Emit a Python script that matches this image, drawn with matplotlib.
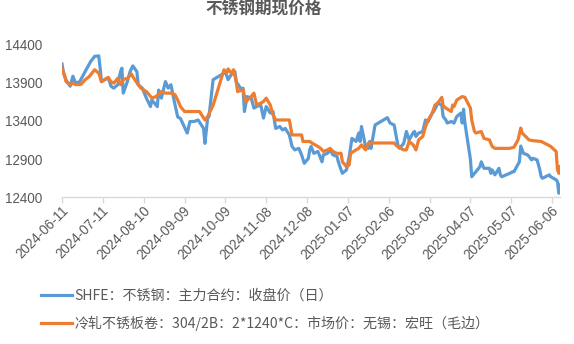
import pandas as pd
import matplotlib
matplotlib.use("Agg")
import matplotlib.pyplot as plt
import matplotlib.dates as mdates
import matplotlib.transforms as mtransforms

plt.rcParams["font.family"] = ["Liberation Sans", "Noto Sans CJK SC", "DejaVu Sans"]

title = "不锈钢期现价格"
shfe_label = "SHFE：不锈钢：主力合约：收盘价（日）"
spot_label = "冷轧不锈板卷：304/2B：2*1240*C：市场价：无锡：宏旺（毛边）"

# SHFE main contract close
shfe_dates = [
    "2024-06-11", "2024-06-12", "2024-06-14", "2024-06-17", "2024-06-19", "2024-06-21",
    "2024-06-24", "2024-06-28", "2024-07-02", "2024-07-05", "2024-07-08", "2024-07-09",
    "2024-07-10", "2024-07-12", "2024-07-15", "2024-07-17", "2024-07-19", "2024-07-22",
    "2024-07-24", "2024-07-25", "2024-07-26", "2024-07-29", "2024-07-31", "2024-08-02",
    "2024-08-05", "2024-08-06", "2024-08-09", "2024-08-12", "2024-08-15", "2024-08-16",
    "2024-08-20", "2024-08-21", "2024-08-23", "2024-08-26", "2024-08-28", "2024-08-30",
    "2024-09-02", "2024-09-04", "2024-09-06", "2024-09-11", "2024-09-13", "2024-09-16",
    "2024-09-19", "2024-09-23", "2024-09-24", "2024-09-26", "2024-09-27", "2024-09-30",
    "2024-10-08", "2024-10-09", "2024-10-11", "2024-10-14", "2024-10-16", "2024-10-17",
    "2024-10-21", "2024-10-22", "2024-10-23", "2024-10-25", "2024-10-28", "2024-10-30",
    "2024-11-01", "2024-11-04", "2024-11-06", "2024-11-08", "2024-11-11", "2024-11-13",
    "2024-11-15", "2024-11-18", "2024-11-20", "2024-11-22", "2024-11-25", "2024-11-27",
    "2024-11-29", "2024-12-02", "2024-12-04", "2024-12-06", "2024-12-09", "2024-12-10",
    "2024-12-11", "2024-12-13", "2024-12-16", "2024-12-19", "2024-12-20", "2024-12-23",
    "2024-12-25", "2024-12-27", "2024-12-30", "2024-12-31", "2025-01-02", "2025-01-03",
    "2025-01-06", "2025-01-08", "2025-01-10", "2025-01-13", "2025-01-15", "2025-01-16",
    "2025-01-17", "2025-01-20", "2025-01-22", "2025-01-23", "2025-01-24", "2025-01-27",
    "2025-02-05", "2025-02-07", "2025-02-10", "2025-02-12", "2025-02-13", "2025-02-14",
    "2025-02-17", "2025-02-19", "2025-02-21", "2025-02-24", "2025-02-25", "2025-02-26",
    "2025-02-28", "2025-03-03", "2025-03-05", "2025-03-07", "2025-03-10", "2025-03-11",
    "2025-03-13", "2025-03-14", "2025-03-17", "2025-03-18", "2025-03-20", "2025-03-21",
    "2025-03-24", "2025-03-26", "2025-03-28", "2025-03-31", "2025-04-01", "2025-04-02",
    "2025-04-03", "2025-04-07", "2025-04-08", "2025-04-11", "2025-04-14", "2025-04-15",
    "2025-04-17", "2025-04-21", "2025-04-22", "2025-04-23", "2025-04-25", "2025-04-28",
    "2025-04-29", "2025-04-30", "2025-05-06", "2025-05-08", "2025-05-09", "2025-05-13",
    "2025-05-14", "2025-05-16", "2025-05-19", "2025-05-20", "2025-05-22", "2025-05-23",
    "2025-05-26", "2025-05-28", "2025-05-29", "2025-05-30", "2025-06-04", "2025-06-05",
    "2025-06-09", "2025-06-10", "2025-06-11", "2025-06-12",
]
shfe_close = [
    14140, 14040, 13930, 13850, 13980, 13890,
    13910, 14040, 14170, 14240, 14245, 14090,
    13910, 13930, 13960, 13850, 13825, 13870,
    14040, 14085, 13760, 13910, 14040, 14115,
    14040, 13870, 13825, 13695, 13585, 13670,
    13585, 13800, 13695, 13910, 13825, 13870,
    13610, 13450, 13430, 13240, 13390, 13390,
    13410, 13300, 13105, 13435, 13455, 13935,
    14020, 14040, 13935, 14020, 14040, 13910,
    13800, 13825, 13520, 13715, 13695, 13565,
    13585, 13605, 13435, 13585, 13500, 13520,
    13300, 13325, 13280, 13300, 13215, 13065,
    13020, 13040, 12955, 12845, 12910, 13020,
    13065, 12975, 13000, 12865, 12955, 12975,
    13020, 12955, 12935, 12865, 12760, 12715,
    12760, 12935, 13170, 13130, 13240, 13130,
    13325, 13065, 13040, 13130, 13040, 13345,
    13440, 13370, 13345, 13150, 13065, 13040,
    13105, 13260, 13150, 13245, 13260, 13195,
    13240, 13260, 13410, 13390, 13500, 13520,
    13585, 13630, 13605, 13455, 13410, 13370,
    13390, 13370, 13455, 13500, 13370, 13550,
    13370, 12900, 12670, 12735, 12800, 12865,
    12780, 12780, 12715, 12760, 12695, 12780,
    12695, 12670, 12715, 12735, 12735, 12865,
    13070, 12975, 12955, 12935, 12890, 12910,
    12890, 12760, 12670, 12650, 12695, 12670,
    12630, 12605, 12455, 12560,
]

# Wuxi cold rolled 304/2B spot
spot_dates = [
    "2024-06-11", "2024-06-13", "2024-06-14", "2024-06-17", "2024-06-19", "2024-06-21",
    "2024-06-25", "2024-06-28", "2024-07-01", "2024-07-03", "2024-07-05", "2024-07-08",
    "2024-07-10", "2024-07-12", "2024-07-15", "2024-07-17", "2024-07-19", "2024-07-22",
    "2024-07-24", "2024-07-26", "2024-07-29", "2024-08-01", "2024-08-02", "2024-08-06",
    "2024-08-08", "2024-08-12", "2024-08-14", "2024-08-16", "2024-08-19", "2024-08-21",
    "2024-08-23", "2024-08-26", "2024-08-30", "2024-09-02", "2024-09-04", "2024-09-06",
    "2024-09-09", "2024-09-20", "2024-09-24", "2024-09-26", "2024-09-30", "2024-10-08",
    "2024-10-10", "2024-10-11", "2024-10-14", "2024-10-15", "2024-10-17", "2024-10-18",
    "2024-10-22", "2024-10-24", "2024-10-28", "2024-10-30", "2024-11-01", "2024-11-04",
    "2024-11-06", "2024-11-08", "2024-11-11", "2024-11-13", "2024-11-15", "2024-11-25",
    "2024-11-27", "2024-12-04", "2024-12-05", "2024-12-10", "2024-12-12", "2024-12-16",
    "2024-12-18", "2024-12-20", "2024-12-23", "2024-12-25", "2024-12-27", "2024-12-30",
    "2025-01-02", "2025-01-03", "2025-01-06", "2025-01-08", "2025-01-09", "2025-01-13",
    "2025-01-15", "2025-01-17", "2025-01-20", "2025-01-22", "2025-01-24", "2025-02-10",
    "2025-02-12", "2025-02-17", "2025-02-19", "2025-02-21", "2025-02-24", "2025-02-26",
    "2025-02-28", "2025-03-03", "2025-03-05", "2025-03-07", "2025-03-10", "2025-03-12",
    "2025-03-14", "2025-03-17", "2025-03-18", "2025-03-20", "2025-03-24", "2025-03-25",
    "2025-03-26", "2025-03-28", "2025-04-01", "2025-04-03", "2025-04-07", "2025-04-08",
    "2025-04-10", "2025-04-11", "2025-04-15", "2025-04-17", "2025-04-21", "2025-04-23",
    "2025-04-25", "2025-05-06", "2025-05-09", "2025-05-12", "2025-05-14", "2025-05-15",
    "2025-05-19", "2025-05-20", "2025-05-23", "2025-05-29", "2025-06-03", "2025-06-05",
    "2025-06-09", "2025-06-10", "2025-06-11", "2025-06-12",
]
spot_price = [
    14085, 13975, 13910, 13870, 13890, 13870,
    13875, 13935, 13975, 14020, 14065, 14020,
    13910, 13935, 13965, 13910, 13890, 13955,
    13870, 13935, 13955, 14010, 13975, 13870,
    13825, 13780, 13740, 13695, 13715, 13745,
    13780, 13760, 13760, 13740, 13670, 13585,
    13520, 13520, 13410, 13455, 13600, 14065,
    14020, 14075, 14010, 14065, 13910, 13780,
    13805, 13650, 13715, 13760, 13605, 13630,
    13650, 13695, 13605, 13475, 13410, 13410,
    13215, 13215, 13130, 13130, 13105, 13065,
    13040, 13000, 13020, 13040, 13000, 12975,
    12975, 12865, 12800, 12825, 12975, 13020,
    13040, 13085, 13020, 13105, 13110, 13110,
    13070, 13020, 13020, 13130, 13085, 13020,
    13150, 13195, 13320, 13410, 13500, 13605,
    13630, 13705, 13595, 13565, 13520, 13605,
    13585, 13670, 13715, 13705, 13565, 13410,
    13260, 13240, 13260, 13170, 13150, 13065,
    13040, 13040, 13055, 13150, 13305, 13240,
    13170, 13150, 13140, 13130, 13085, 13065,
    13000, 12760, 12715, 12800,
]

y_ticks = [12400, 12900, 13400, 13900, 14400]
x_ticks = pd.date_range("2024-06-11", periods=13, freq="30D")

text_color = "#595959"

fig = plt.figure(figsize=(5.74, 3.44), dpi=100)
ax = fig.add_axes([0.108, 0.426, 0.868, 0.446])

ax.plot(pd.to_datetime(shfe_dates), shfe_close, color="#5B9BD5", lw=2.3,
        solid_joinstyle="round", label=shfe_label, zorder=3)
ax.plot(pd.to_datetime(spot_dates), spot_price, color="#ED7D31", lw=2.3,
        solid_joinstyle="round", label=spot_label, zorder=4)

ax.set_xlim(pd.Timestamp("2024-06-11"), pd.Timestamp("2025-06-12"))
ax.set_ylim(12400, 14400)
ax.set_yticks(y_ticks)
ax.set_xticks(x_ticks)
ax.xaxis.set_major_formatter(mdates.DateFormatter("%Y-%m-%d"))

for side in ["top", "right", "left"]:
    ax.spines[side].set_visible(False)
ax.spines["bottom"].set_color("#D9D9D9")
ax.spines["bottom"].set_linewidth(1.0)

ax.tick_params(axis="y", length=0, pad=14, labelsize=9.75, labelcolor=text_color)
ax.tick_params(axis="x", length=4, width=1.0, color="#D9D9D9", pad=2,
               labelsize=9.75, labelcolor=text_color)
shift = mtransforms.ScaledTranslation(0.04, -0.03, fig.dpi_scale_trans)
for lbl in ax.get_xticklabels():
    lbl.set_rotation(45)
    lbl.set_ha("right")
    lbl.set_va("center")
    lbl.set_rotation_mode("anchor")
    lbl.set_transform(lbl.get_transform() + shift)

fig.text(0.46, 0.972, title, ha="center", va="center", fontsize=12,
         fontweight="bold", color=text_color, family=["Noto Sans CJK SC"])

leg = ax.legend(loc="upper left", bbox_to_anchor=(0.072, 0.16),
                bbox_transform=fig.transFigure, frameon=False,
                prop={"family": ["Noto Sans CJK SC"], "size": 10.1},
                handlelength=2.2, handletextpad=0.15, labelspacing=0.9,
                borderaxespad=0, borderpad=0)
for t in leg.get_texts():
    t.set_color(text_color)

fig.savefig("out.png", dpi=100)
